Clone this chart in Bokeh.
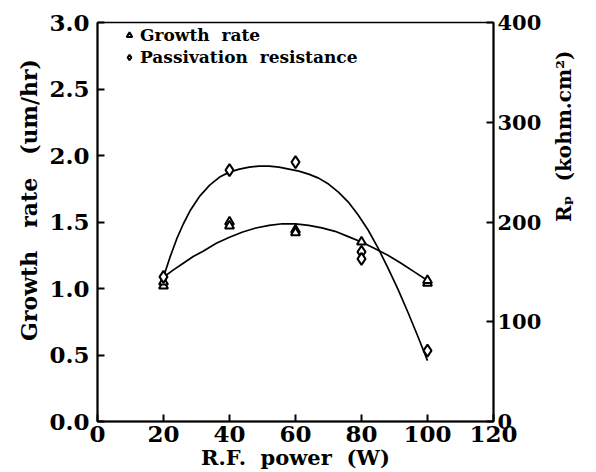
import math
from bokeh.plotting import figure
from bokeh.models import Range1d, LinearAxis, Legend, LegendItem, FixedTicker, CustomJSTickFormatter
from bokeh.embed import file_html
from bokeh.resources import INLINE

# Data
growth_x = [20, 20, 40, 40, 60, 60, 80, 100, 100]
growth_y = [1.02, 1.05, 1.50, 1.47, 1.44, 1.42, 1.35, 1.04, 1.06]

rp_x = [20, 40, 60, 80, 80, 100]
rp_y = [145, 252, 260, 170, 163, 71]

# Fitted curves as drawn in the picture
growth_fit_x = [20, 23, 26, 29, 32, 36, 40, 44, 48, 52, 56, 60, 64, 68, 72, 76, 80, 84, 88, 92, 96, 100]
growth_fit_y = [1.085, 1.14, 1.19, 1.24, 1.28, 1.34, 1.385, 1.425, 1.455, 1.475, 1.487, 1.486, 1.475, 1.456, 1.43, 1.39, 1.35, 1.30, 1.25, 1.19, 1.125, 1.06]

rp_fit_x = [20, 22, 24, 26, 28, 31, 34, 37, 40, 43, 46, 49, 52, 55, 58, 61, 64, 67, 70, 73, 76, 79, 82, 85, 88, 91, 94, 97, 100]
rp_fit_y = [145, 165, 183, 198, 211, 226, 237, 245, 250, 253, 255, 256, 256, 255, 253, 251, 248, 244, 238, 230, 220, 207, 192, 174, 154, 133, 110, 86, 61]

x_ticks = [0, 20, 40, 60, 80, 100, 120]
left_ticks = [0.0, 0.5, 1.0, 1.5, 2.0, 2.5, 3.0]
right_ticks = [0, 100, 200, 300, 400]

FONT = "DejaVu Serif"
SP = "\u00a0\u00a0"
SP3 = "\u00a0\u00a0\u00a0"

p = figure(width=596, height=472, output_backend="svg", toolbar_location=None,
           x_range=Range1d(0, 120), y_range=Range1d(0, 3.0),
           min_border_left=97, min_border_right=103, min_border_top=22, min_border_bottom=51)
p.extra_y_ranges = {"rp": Range1d(0, 400)}

p.xgrid.visible = False
p.ygrid.visible = False
p.outline_line_color = "black"
p.outline_line_width = 1.5
p.background_fill_color = "white"
p.border_fill_color = "white"

# Curves
p.line(growth_fit_x, growth_fit_y, line_color="black", line_width=1.7)
p.line(rp_fit_x, rp_fit_y, line_color="black", line_width=1.7, y_range_name="rp")

# Markers
g = p.scatter(growth_x, growth_y, marker="triangle", size=9, fill_color="white",
              line_color="black", line_width=2)
r = p.scatter(rp_x, rp_y, marker="diamond", size=12, fill_color="white",
              line_color="black", line_width=2, y_range_name="rp")

def style_axis(ax, ticks, tick_size="23px"):
    ax.ticker = FixedTicker(ticks=ticks)
    ax.minor_tick_line_color = None
    ax.major_tick_in = 7
    ax.major_tick_out = 0
    ax.axis_line_width = 2
    ax.major_tick_line_width = 2
    ax.axis_line_color = "black"
    ax.major_tick_line_color = "black"
    ax.major_label_text_font = FONT
    ax.major_label_text_font_size = tick_size
    ax.major_label_text_font_style = "bold"
    ax.major_label_text_color = "black"
    ax.axis_label_text_font = FONT
    ax.axis_label_text_font_size = "21px"
    ax.axis_label_text_font_style = "bold"
    ax.axis_label_text_color = "black"

xa = p.xaxis[0]
style_axis(xa, x_ticks)
xa.axis_label = "R.F." + SP + "power" + SP + "(W)"
xa.major_label_standoff = 4
xa.axis_label_standoff = 0

ya = p.yaxis[0]
style_axis(ya, left_ticks)
ya.axis_label = "\u2003\u2003" + "Growth" + SP3 + "rate" + SP3 + "(um/hr)"
ya.axis_label_text_font_size = "22px"
ya.major_label_standoff = 8
ya.axis_label_standoff = 4
ya.formatter = CustomJSTickFormatter(code="return tick.toFixed(1);")

ra = LinearAxis(y_range_name="rp")
style_axis(ra, right_ticks, tick_size="21px")
ra.axis_label = "Rₚ" + SP + "(kohm.cm²)"
ra.axis_label_text_font_size = "20px"
ra.axis_label_orientation = math.pi / 2
ra.major_label_standoff = 4
ra.axis_label_standoff = 20
p.add_layout(ra, "right")

legend = Legend(items=[LegendItem(label="Growth" + SP + "rate", renderers=[g]),
                       LegendItem(label="Passivation" + SP + "resistance", renderers=[r])],
                location=(25, 354))
legend.border_line_color = None
legend.background_fill_alpha = 0
legend.label_text_font = FONT
legend.label_text_font_style = "bold"
legend.label_text_font_size = "17px"
legend.label_text_color = "black"
legend.label_height = 18
legend.glyph_height = 14
legend.glyph_width = 14
legend.spacing = 2
legend.padding = 2
legend.margin = 0
legend.label_standoff = 4
p.add_layout(legend, "center")

open("out.html", "w").write(file_html(p, INLINE))
